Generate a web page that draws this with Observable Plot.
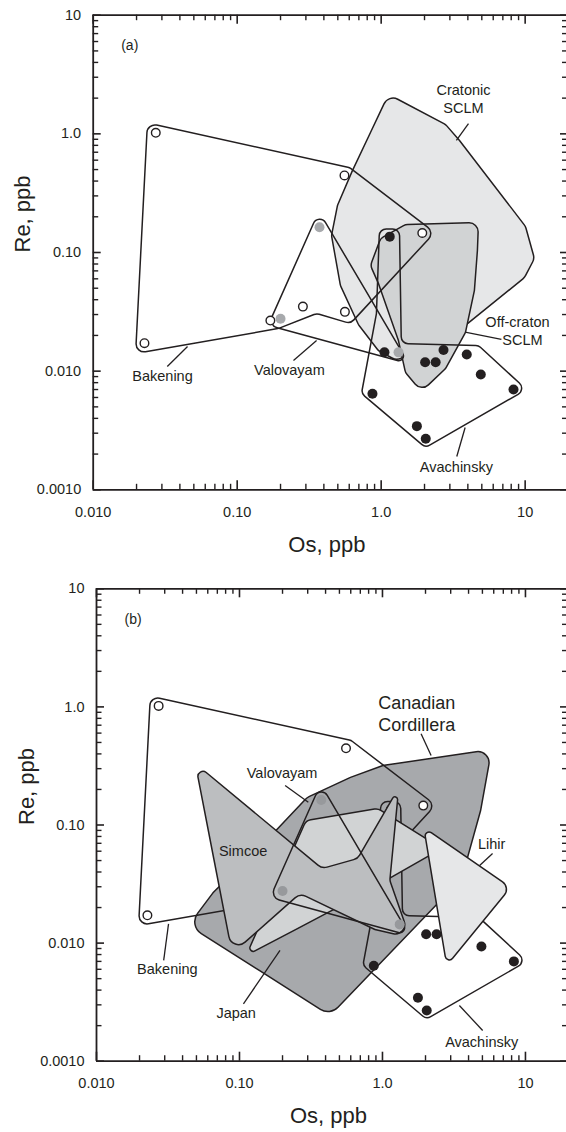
<!DOCTYPE html>
<html><head><meta charset="utf-8">
<script src="https://cdn.jsdelivr.net/npm/d3@7"></script>
<script src="https://cdn.jsdelivr.net/npm/@observablehq/plot@0.6"></script>
<style>
body{margin:0;background:#fff;}
#chart{width:566px;}
svg{display:block;}
</style></head><body><div id="chart"></div>
<script>
// ---------- axis ticks ----------
const xMajor = [0.01, 0.1, 1, 10];
const xMajorLabels = ["0.010", "0.10", "1.0", "10"];
const yMajor = [0.001, 0.01, 0.1, 1, 10];
const yMajorLabels = ["0.0010", "0.010", "0.10", "1.0", "10"];
const xMinor = [0.02,0.03,0.04,0.05,0.06,0.07,0.08,0.09,0.2,0.3,0.4,0.5,0.6,0.7,0.8,0.9,2,3,4,5,6,7,8,9];
const yMinor = [0.002,0.003,0.004,0.005,0.006,0.007,0.008,0.009,0.02,0.03,0.04,0.05,0.06,0.07,0.08,0.09,0.2,0.3,0.4,0.5,0.6,0.7,0.8,0.9,2,3,4,5,6,7,8,9];

// ---------- samples (Os, Re in ppb) ----------
const bakeningPoints = [[0.0272,1.02],[0.0227,0.0172],[0.556,0.446],[1.93,0.146],[0.286,0.035],[0.56,0.0316],[0.17,0.0267]];
const valovayamPoints = [[0.373,0.163],[0.2,0.0276],[1.32,0.0144]];
const avachinskyPoints = [[1.147,0.136],[1.054,0.01445],[2.02,0.0119],[2.39,0.0119],[2.71,0.0151],[3.93,0.0138],[4.92,0.00937],[8.3,0.0070],[0.87,0.00644],[1.77,0.00344],[2.04,0.00269]];

// ---------- field outlines (vertices) ----------
const bakeningField = [[0.0238,1.233],[0.603,0.52],[2.35,0.1475],[0.612,0.0252],[0.356,0.0306],[0.194,0.0229],[0.0197,0.0141]];
const valovayamField = [[0.3693,0.2225],[0.164,0.0243],[1.555,0.01156]];
const avachinskyField = [[0.973,0.158],[1.34,0.158],[1.38,0.0171],[4.74,0.01644],[10.2,0.0070],[2.03,0.00227],[0.73,0.00648],[0.927,0.0306]];
const cratonicField = [[1.124,2.15],[2.80,1.20],[3.50,0.879],[10.05,0.166],[11.6,0.089],[9.9,0.0615],[3.91,0.0247],[1.87,0.0155],[1.28,0.0123],[0.957,0.0149],[0.695,0.0247],[0.521,0.0527],[0.452,0.139],[0.497,0.249],[0.632,0.491]];
const offCratonField = [[4.74,0.179],[1.475,0.172],[0.989,0.131],[0.843,0.0777],[0.957,0.0548],[1.318,0.0181],[1.475,0.00974],[1.905,0.00674],[2.80,0.01052],[3.85,0.0212],[4.44,0.0478],[4.66,0.104]];
const cordilleraField = [[0.044,0.0141],[0.0655,0.0268],[0.172,0.0847],[0.297,0.171],[0.592,0.252],[1.007,0.319],[5.8,0.436],[4.86,0.133],[3.58,0.0352],[0.43,0.00244]];
const japanField = [[0.1114,0.00785],[0.292,0.109],[0.929,0.138],[2.597,0.0632],[0.546,0.0216]];
const simcoeField = [[0.0491,0.332],[0.3776,0.0428],[0.67,0.052],[1.30,0.2077],[1.126,0.0339],[1.553,0.01115],[0.885,0.01303],[0.265,0.0263],[0.0889,0.00816]];
const lihirField = [[1.945,0.0952],[7.87,0.0296],[2.815,0.00646]];

// ---------- labels ----------
const labelsA = [
  {text: "Cratonic\nSCLM", x: 3.73, y: 1.99},
  {text: "Off-craton", x: 8.84, y: 0.0265},
  {text: "SCLM", x: 9.58, y: 0.0185},
  {text: "Bakening", x: 0.0303, y: 0.00919},
  {text: "Valovayam", x: 0.2306, y: 0.01033},
  {text: "Avachinsky", x: 3.33, y: 0.00157}
];
const leadersA = [[4.04,1.22,3.33,0.879],[3.83,0.0213,6.84,0.0185],[0.0327,0.01094,0.0452,0.01614],[0.246,0.0123,0.356,0.0181],[3.35,0.00191,3.83,0.00335]];
const labelsB = [
  {text: "Valovayam", x: 0.1986, y: 0.278},
  {text: "Simcoe", x: 0.106, y: 0.0608},
  {text: "Lihir", x: 5.8, y: 0.0697},
  {text: "Bakening", x: 0.0313, y: 0.0061},
  {text: "Japan", x: 0.0948, y: 0.00258},
  {text: "Avachinsky", x: 4.94, y: 0.00147}
];
const bigLabelsB = [{text: "Canadian\nCordillera", x: 1.738, y: 0.888}];
const leadersB = [[1.862,0.592,2.188,0.388],[0.2085,0.216,0.303,0.156],[5.89,0.0574,4.78,0.0454],[0.0295,0.00713,0.0319,0.01457],[0.1066,0.00306,0.192,0.00866],[5.02,0.00182,3.45,0.00296]];

// ---------- rendering helpers ----------
const INK = "#231f20";
const FONT = "Liberation Sans, Arial, Helvetica, sans-serif";
const W = 566;

// closed polygon with rounded corners (corner radius limited so tips stay close to the vertex)
function roundedPolygon(radius, maxInset) {
  return function(context) {
    let pts = [];
    return {
      areaStart() {}, areaEnd() {},
      lineStart() { pts = []; },
      point(x, y) { pts.push([+x, +y]); },
      lineEnd() {
        const n = pts.length;
        if (n < 3) return;
        const mid = (a, b) => [(a[0] + b[0]) / 2, (a[1] + b[1]) / 2];
        const s = mid(pts[n - 1], pts[0]);
        context.moveTo(s[0], s[1]);
        for (let i = 0; i < n; i++) {
          const p = pts[i];
          const a = mid(pts[(i - 1 + n) % n], p), b = mid(p, pts[(i + 1) % n]);
          const ux = a[0] - p[0], uy = a[1] - p[1], vx = b[0] - p[0], vy = b[1] - p[1];
          const lu = Math.hypot(ux, uy), lv = Math.hypot(vx, vy);
          let r = 0;
          if (lu > 0 && lv > 0) {
            const c = Math.max(-1, Math.min(1, (ux * vx + uy * vy) / (lu * lv)));
            const th = Math.acos(c), sh = Math.sin(th / 2);
            r = Math.min(radius, Math.min(lu, lv) * Math.tan(th / 2) * 0.95);
            if (sh < 0.999) r = Math.min(r, maxInset * sh / (1 - sh));
          }
          if (r > 0.05) context.arcTo(p[0], p[1], b[0], b[1], r);
          else context.lineTo(p[0], p[1]);
        }
        context.closePath();
      }
    };
  };
}

function field(data, fill, radius = 8, maxInset = 6) {
  return Plot.line(data, {x: d => d[0], y: d => d[1], curve: roundedPolygon(radius, maxInset), fill, stroke: INK, strokeWidth: 1.5});
}
function dots(data, fill, stroke, r) {
  return Plot.dot(data, {x: d => d[0], y: d => d[1], r, fill, stroke, strokeWidth: stroke ? 1.4 : 0});
}
function leaders(data) {
  return Plot.link(data, {x1: d => d[0], y1: d => d[1], x2: d => d[2], y2: d => d[3], stroke: INK, strokeWidth: 1.3});
}
function labels(data, size) {
  return Plot.text(data, {x: "x", y: "y", text: "text", fontSize: size, fill: INK, lineHeight: 1.25});
}
// inward-pointing ticks on all four sides of the frame
function frameAxes(fw, fh) {
  const tx = (v, len, side, sw) => Plot.tickX(v, {x: d => d, stroke: INK, strokeWidth: sw,
    ...(side === "bottom" ? {insetTop: fh - len} : {insetBottom: fh - len})});
  const ty = (v, len, side, sw) => Plot.tickY(v, {y: d => d, stroke: INK, strokeWidth: sw,
    ...(side === "left" ? {insetRight: fw - len} : {insetLeft: fw - len})});
  return [
    tx(xMajor, 9, "bottom", 1.6), tx(xMinor, 5.5, "bottom", 1.4),
    tx(xMajor, 9, "top", 1.6), tx(xMinor, 5.5, "top", 1.4),
    ty(yMajor, 8, "left", 1.6), ty(yMinor, 5.5, "left", 1.4),
    ty(yMajor, 6, "right", 1.6), ty(yMinor, 4, "right", 1.4),
    Plot.ruleY([0.001, 10], {stroke: INK, strokeWidth: 1.8}),
    Plot.ruleX([0.01], {stroke: INK, strokeWidth: 1.8}),
    Plot.axisX({anchor: "bottom", ticks: xMajor, tickSize: 0, tickPadding: 17, label: null,
      tickFormat: d => xMajorLabels[xMajor.indexOf(d)], fontSize: 14.5, fill: INK}),
    Plot.axisY({anchor: "left", ticks: yMajor, tickSize: 0, tickPadding: 12, label: null,
      tickFormat: d => yMajorLabels[yMajor.indexOf(d)], fontSize: 14.5, fill: INK}),
    Plot.text(["Re, ppb"], {frameAnchor: "left", rotate: -90, dx: -70, fontSize: 22, fill: INK}),
    Plot.text(["Os, ppb"], {frameAnchor: "bottom", dy: 62, dx: -3, fontSize: 22, fill: INK})
  ];
}

function panel({height, marginTop, marginBottom, left, tag, marks}) {
  const fw = W - left, fh = height - marginTop - marginBottom;
  return Plot.plot({
    width: W, height, marginTop, marginBottom, marginLeft: left, marginRight: 0,
    x: {type: "log", domain: [0.01, 20], range: [left, 568], axis: null},
    y: {type: "log", domain: [0.001, 10], axis: null},
    style: {fontFamily: FONT, fontSize: "14.5px", color: INK, background: "white", overflow: "visible"},
    marks: [
      ...marks,
      Plot.text([tag], {frameAnchor: "top-left", dx: 28, dy: 25, fontSize: 14, fill: INK}),
      ...frameAxes(fw, fh)
    ]
  });
}

const chart = document.getElementById("chart");

chart.append(panel({
  height: 560, marginTop: 14.7, marginBottom: 70.7, left: 92.7, tag: "(a)",
  marks: [
    field(cratonicField, "#e6e7e8", 10, 6),
    field(offCratonField, "#d1d3d4", 9, 6),
    field(bakeningField, "none", 8, 6),
    field(valovayamField, "none", 8, 8),
    field(avachinskyField, "none", 7, 5),
    leaders(leadersA),
    dots(bakeningPoints, "white", INK, 4.3),
    dots(valovayamPoints, "#a7a9ac", null, 5),
    dots(avachinskyPoints, INK, null, 5),
    labels(labelsA, 14.5)
  ]
}));

chart.append(panel({
  height: 572, marginTop: 28.3, marginBottom: 71.3, left: 96, tag: "(b)",
  marks: [
    field(cordilleraField, "#a7a9ac", 14, 8),
    field(bakeningField, "none", 8, 6),
    dots(bakeningPoints, "white", INK, 4.3),
    field(avachinskyField, "none", 7, 5),
    dots(avachinskyPoints, INK, null, 5),
    field(japanField, "#d1d3d4", 9, 7),
    field(simcoeField, "#bcbec0", 10, 10),
    field(lihirField, "#e6e7e8", 9, 6),
    field(valovayamField, "none", 8, 8),
    dots(valovayamPoints, "#97999c", null, 5),
    leaders(leadersB),
    labels(labelsB, 14.5),
    labels(bigLabelsB, 18)
  ]
}));
</script></body></html>
